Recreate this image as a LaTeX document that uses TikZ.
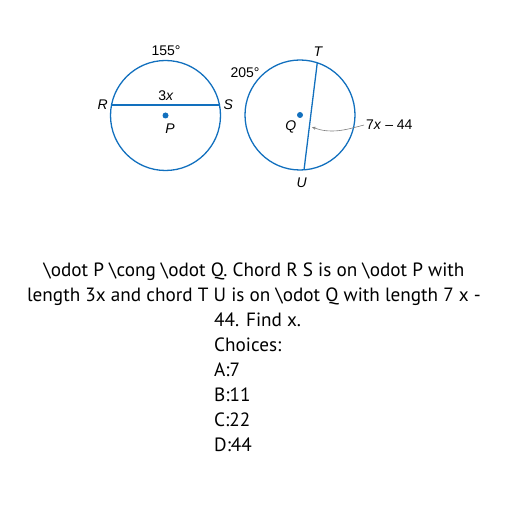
\documentclass[tikz,border=0pt]{standalone}
\usepackage{fontspec}
\setmainfont{PT Sans}
\newfontfamily\labelfont{Liberation Sans}
\usetikzlibrary{calc,arrows.meta}
\definecolor{circblue}{RGB}{18,112,190}
\tikzset{
    circ/.style={draw=circblue, line width=1.3pt},
    lbl/.style={font=\labelfont\fontsize{14}{14}\selectfont, inner sep=0pt},
    txt/.style={font=\fontsize{19.2}{25}\selectfont, inner sep=0pt}
}
\begin{document}
\begin{tikzpicture}[x=1pt, y=1pt]
    \useasboundingbox (0, 0) rectangle (512, 512);
    % circle P with chord RS
    \coordinate (P) at (165.5, 396.5);
    \draw[circ] (P) circle (55);
    \coordinate (R) at ($(P) + (168.9:55)$);
    \coordinate (S) at ($(P) + (11.1:55)$);
    \draw[circ] (R) -- (S);
    \fill[circblue] (P) circle (3);
    \node[lbl] (labR) at(102.7, 407) {\textit{R}};
    \node[lbl] (labS) at(228.3, 407) {\textit{S}};
    \node[lbl] (labRS) at(166, 416.3) {3\textit{x}};
    \node[lbl] (labP) at(170, 383) {\textit{P}};
    \node[lbl] (arcP) at(166, 461.3) {155\textdegree};
    % circle Q with chord TU
    \coordinate (Q) at (300, 397);
    \draw[circ] (Q) circle (55);
    \coordinate (T) at ($(Q) + (71.7:55)$);
    \coordinate (U) at ($(Q) + (-85.8:55)$);
    \draw[circ] (T) -- (U);
    \fill[circblue] (Q) circle (3);
    \node[lbl] (labT) at(318.3, 460.3) {\textit{T}};
    \node[lbl] (labU) at(301.7, 329.3) {\textit{U}};
    \node[lbl] (labQ) at(290.7, 385.3) {\textit{Q}};
    \node[lbl] (arcQ) at(245, 439.3) {205\textdegree};
    \node[lbl, anchor=west] (labTU) at(366, 387) {7\textit{x} \textendash\ 44};
    \coordinate (mid) at ($(T)!0.6!(U) + (2.5, 0)$);
    \draw[gray, line width=0.6pt, -{Stealth[length=4pt, width=3pt]}]
        ($(labTU.west) + (-2, 0)$) to[out=195, in=-20] (mid);
    % question text
    \node[txt] (q1) at(254, 240) {\textbackslash odot P \textbackslash cong \textbackslash odot Q. Chord R S is on \textbackslash odot P with};
    \node[txt] (q2) at(254, 215) {length 3x and chord T U is on \textbackslash odot Q with length 7 x -};
    \node[txt, anchor=north west, align=left] (choices) at(214, 199)
        {44. Find x.\\Choices:\\A:7\\B:11\\C:22\\D:44};
\end{tikzpicture}
\end{document}
